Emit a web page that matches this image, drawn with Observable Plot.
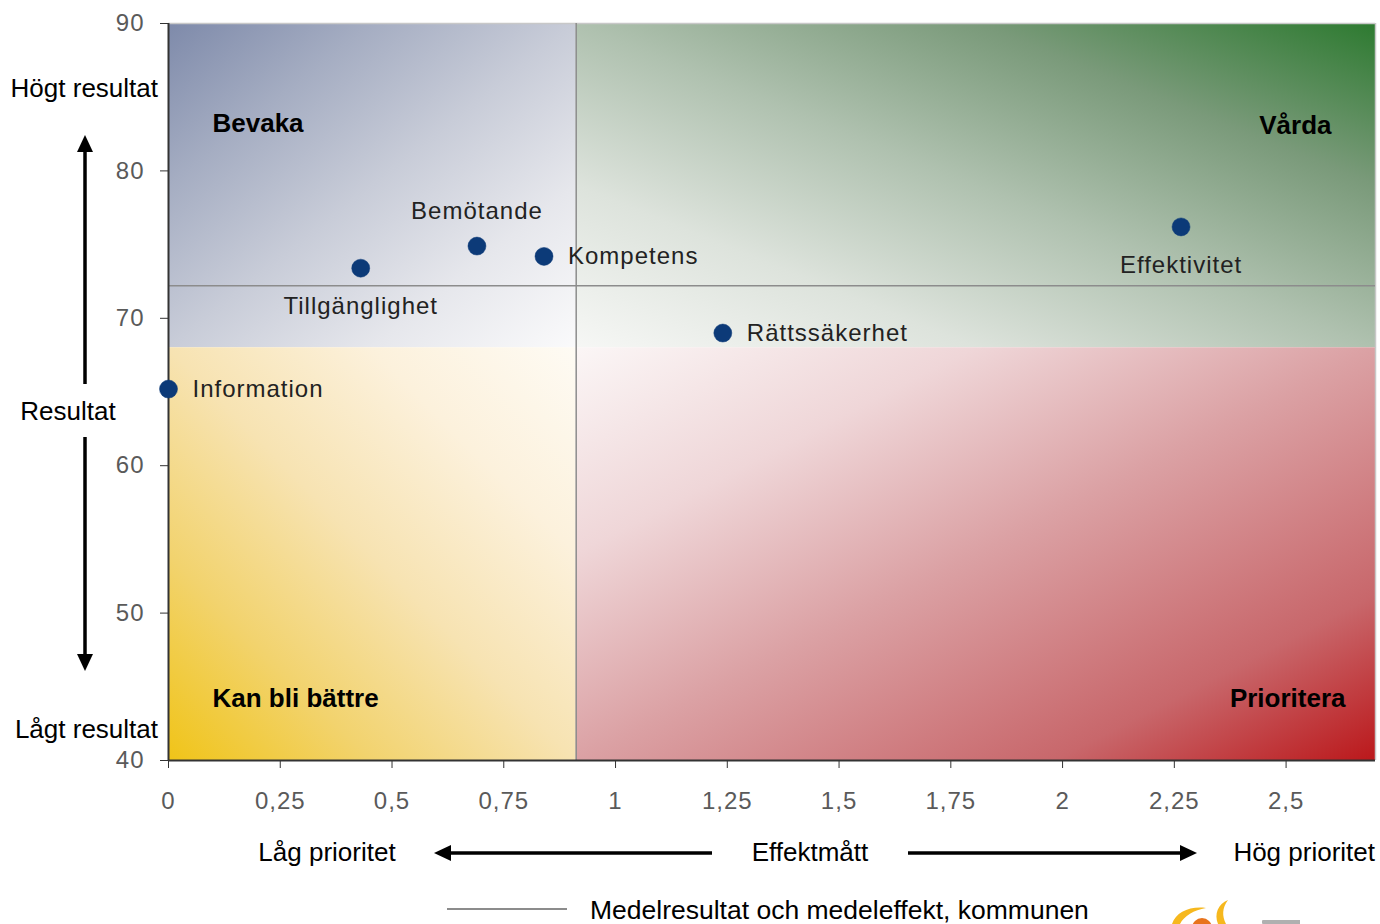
<!DOCTYPE html>
<html><head><meta charset="utf-8">
<script src="https://cdn.jsdelivr.net/npm/d3@7"></script>
<script src="https://cdn.jsdelivr.net/npm/@observablehq/plot@0.6"></script>
<style>
body{margin:0;background:#fff;font-family:"Liberation Sans",Arial,sans-serif;}
#chart{position:relative;width:1380px;}
#legend{position:relative;width:1380px;height:44px;overflow:hidden;}
#legend .line{position:absolute;left:447px;top:28px;width:120px;height:0;border-top:2px solid #8c8c8c;}
#legend .txt{position:absolute;left:590px;top:15px;font-size:26.5px;color:#000;white-space:nowrap;}
#legend svg{position:absolute;left:1160px;top:18px;}
</style></head><body>
<div id="chart"></div>
<div id="legend"><div class="line"></div><div class="txt">Medelresultat och medeleffekt, kommunen</div>
<svg width="140" height="26" viewBox="0 0 140 26">
  <circle cx="42" cy="30" r="10" fill="#e8731c"/>
  <path d="M12,26 C16,14 30,8 46,10 C34,12 24,18 20,26 Z" fill="#f6b81e"/>
  <path d="M58,26 C54,16 58,6 68,2 C62,10 62,18 66,26 Z" fill="#f6b81e"/>
  <rect x="102" y="22" width="40" height="4" rx="1" fill="#b0b0b0"/>
</svg></div>
<script>
// ---- data ----
const names = ["Information","Tillgänglighet","Bemötande","Kompetens","Rättssäkerhet","Effektivitet"];
const effekt = [0.0, 0.43, 0.69, 0.84, 1.24, 2.265];
const resultat = [65.2, 73.4, 74.9, 74.2, 69.0, 76.2];
const meanEffekt = 0.912;
const meanResultat = 72.2;
const colorSplitResultat = 68;
const xTicks = [0, 0.25, 0.5, 0.75, 1, 1.25, 1.5, 1.75, 2, 2.25, 2.5];
const yTicks = [40, 50, 60, 70, 80, 90];
const xDomain = [0, 2.7];
const yDomain = [40, 90];
const quadrantNames = ["Bevaka", "Vårda", "Kan bli bättre", "Prioritera"];

const points = names.map((n, i) => ({name: n, x: effekt[i], y: resultat[i]}));
const placement = {Information: "right", "Tillgänglighet": "below", "Bemötande": "above", Kompetens: "right", "Rättssäkerhet": "right", Effektivitet: "below"};
const byPlace = p => points.filter(d => placement[d.name] === p);
const fmt = d => String(d).replace(".", ",");

const font = "'Liberation Sans', Arial, sans-serif";

const plot = Plot.plot({
  width: 1380, height: 880,
  marginLeft: 168, marginRight: 5, marginTop: 23, marginBottom: 120,
  x: {domain: xDomain, label: null},
  y: {domain: yDomain, label: null},
  style: {fontFamily: font, fontSize: "24px", background: "transparent", overflow: "visible", letterSpacing: "1px"},
  marks: [
    Plot.rect([{}], {x1: xDomain[0], x2: meanEffekt, y1: colorSplitResultat, y2: yDomain[1], fill: "url(#gBlue)"}),
    Plot.rect([{}], {x1: meanEffekt, x2: xDomain[1], y1: colorSplitResultat, y2: yDomain[1], fill: "url(#gGreen)"}),
    Plot.rect([{}], {x1: xDomain[0], x2: meanEffekt, y1: yDomain[0], y2: colorSplitResultat, fill: "url(#gYellow)"}),
    Plot.rect([{}], {x1: meanEffekt, x2: xDomain[1], y1: yDomain[0], y2: colorSplitResultat, fill: "url(#gRed)"}),
    Plot.ruleY([yDomain[1]], {stroke: "#c8c8c8", strokeWidth: 1.5}),
    Plot.ruleX([xDomain[1]], {stroke: "#c8c8c8", strokeWidth: 1.5}),
    Plot.ruleX([meanEffekt], {stroke: "#8c8c8c", strokeWidth: 1.5}),
    Plot.ruleY([meanResultat], {stroke: "#8c8c8c", strokeWidth: 1.5}),
    Plot.axisX({ticks: xTicks, tickFormat: fmt, tickSize: 8, tickPadding: 23, fill: "#5a5a5a", stroke: "#333", label: null}),
    Plot.axisY({ticks: yTicks, tickSize: 8, tickPadding: 16, fill: "#5a5a5a", stroke: "#333", label: null}),
    Plot.ruleX([xDomain[0]], {stroke: "#333", strokeWidth: 2}),
    Plot.ruleY([yDomain[0]], {stroke: "#333", strokeWidth: 2}),
    Plot.dot(points, {x: "x", y: "y", r: 9, fill: "#0c3a78", stroke: "#0c3a78", strokeWidth: 0.5}),
    Plot.text(byPlace("right"), {x: "x", y: "y", text: "name", textAnchor: "start", dx: 24, fill: "#222"}),
    Plot.text(byPlace("below"), {x: "x", y: "y", text: "name", dy: 38, fill: "#222"}),
    Plot.text(byPlace("above"), {x: "x", y: "y", text: "name", dy: -35, fill: "#222"}),
    Plot.text([quadrantNames[0]], {text: d => d, frameAnchor: "top-left", dx: 44, dy: 100, fontWeight: "bold", fontSize: 26, fill: "#000", textAnchor: "start", lineAnchor: "middle"}),
    Plot.text([quadrantNames[1]], {text: d => d, frameAnchor: "top-right", dx: -44, dy: 102, fontWeight: "bold", fontSize: 26, fill: "#000", textAnchor: "end", lineAnchor: "middle"}),
    Plot.text([quadrantNames[2]], {text: d => d, frameAnchor: "bottom-left", dx: 44, dy: -62, fontWeight: "bold", fontSize: 26, fill: "#000", textAnchor: "start", lineAnchor: "middle"}),
    Plot.text([quadrantNames[3]], {text: d => d, frameAnchor: "bottom-right", dx: -30, dy: -62, fontWeight: "bold", fontSize: 26, fill: "#000", textAnchor: "end", lineAnchor: "middle"})
  ]
});

const svg = d3.select(plot);
const defs = svg.insert("defs", ":first-child");
function grad(id, x1, y1, x2, y2, stops) {
  const g = defs.append("linearGradient").attr("id", id)
    .attr("x1", x1).attr("y1", y1).attr("x2", x2).attr("y2", y2);
  stops.forEach(([o, c]) => g.append("stop").attr("offset", o).attr("stop-color", c));
}
grad("gBlue", 0, 0, 1, 1, [[0, "#7e8aaa"], [0.25, "#a5adc2"], [0.5, "#c8ccd8"], [0.75, "#e6e7ec"], [1, "#fafafb"]]);
grad("gGreen", 1, 0, 0, 1, [[0, "#2d7a30"], [0.25, "#7a9a7a"], [0.5, "#afc1af"], [0.75, "#dde3dc"], [1, "#f6f7f5"]]);
grad("gYellow", 0, 1, 1, 0, [[0, "#f0c418"], [0.25, "#f2d36e"], [0.5, "#f7e3b2"], [0.75, "#fcf1dc"], [1, "#fefbf4"]]);
grad("gRed", 1, 1, 0, 0, [[0, "#bb181b"], [0.2, "#c8676b"], [0.5, "#dba1a4"], [0.75, "#efd6d8"], [1, "#fbf6f6"]]);

// remove letter spacing on bold quadrant labels
svg.selectAll("text").filter(function(){ return this.getAttribute("font-weight") === "bold" || (this.parentNode && this.parentNode.getAttribute("font-weight") === "bold"); }).style("letter-spacing", "0px");

// annotations (layout decorations)
const ann = svg.append("g").attr("font-family", font).attr("font-size", 26).attr("fill", "#000").style("letter-spacing", "0px");
const txt = (s, x, y, anchor) => ann.append("text").attr("x", x).attr("y", y).attr("dy", "0.35em").attr("text-anchor", anchor).text(s);
txt("Högt resultat", 158, 88, "end");
txt("Resultat", 68, 411, "middle");
txt("Lågt resultat", 158, 729, "end");
txt("Låg prioritet", 327, 852, "middle");
txt("Effektmått", 810, 852, "middle");
txt("Hög prioritet", 1375, 852, "end");
function arrow(xa, ya, xb, yb) {
  const ang = Math.atan2(yb - ya, xb - xa), L = 17, W = 8;
  const bx = xb - L * Math.cos(ang), by = yb - L * Math.sin(ang);
  ann.append("line").attr("x1", xa).attr("y1", ya).attr("x2", bx).attr("y2", by).attr("stroke", "#000").attr("stroke-width", 3.5);
  const px = -Math.sin(ang) * W, py = Math.cos(ang) * W;
  ann.append("path").attr("d", `M${xb},${yb}L${bx + px},${by + py}L${bx - px},${by - py}Z`).attr("fill", "#000");
}
arrow(85, 384, 85, 135);
arrow(85, 437, 85, 671);
arrow(712, 853, 434, 853);
arrow(908, 853, 1197, 853);

document.getElementById("chart").appendChild(plot);
</script>
</body></html>
